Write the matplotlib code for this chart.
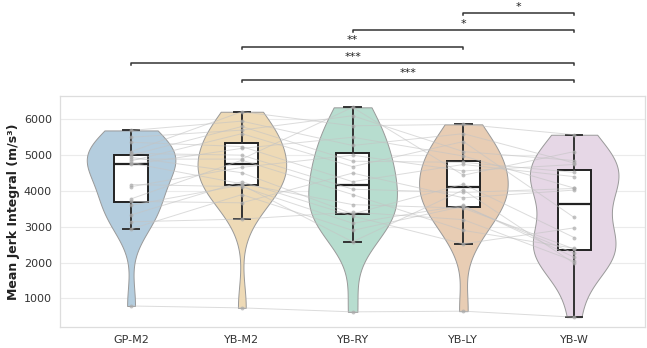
import numpy as np
import matplotlib
matplotlib.use("Agg")
import matplotlib.pyplot as plt

# groups and per-subject values (same subject at the same index in every group)
groups = ["GP-M2", "YB-M2", "YB-RY", "YB-LY", "YB-W"]

gp_m2 = [790, 2940, 3140, 3330, 3600, 3710, 3780, 4120, 4180, 4740,
         4780, 4840, 4890, 4940, 5000, 5050, 5100, 5360, 5500, 5690]
yb_m2 = [737, 3900, 3215, 4260, 4168, 3670, 4860, 4660, 4120, 5190,
         4200, 5600, 4890, 4510, 5800, 5000, 6212, 5240, 5700, 5950]
yb_ry = [626, 2900, 3410, 3300, 2581, 4500, 3900, 5000, 3100, 5500,
         3620, 4680, 6335, 3360, 4830, 4050, 5820, 4260, 6100, 5270]
yb_ly = [645, 3572, 3200, 2525, 4030, 3810, 2900, 4560, 3600, 4976,
         3520, 5380, 4440, 4190, 4800, 3960, 5860, 4740, 5100, 5600]
yb_w = [478, 2260, 2040, 2970, 1980, 4025, 2400, 4740, 2150, 4080,
        2380, 3260, 5100, 2700, 4520, 4070, 5570, 4400, 4850, 4780]

# significance brackets: (group a, group b, label), bottom to top
sig_pairs = [("YB-M2", "YB-W", "***"),
             ("GP-M2", "YB-W", "***"),
             ("YB-M2", "YB-LY", "**"),
             ("YB-RY", "YB-W", "*"),
             ("YB-LY", "YB-W", "*")]

colors = ["#b4cdde", "#eedab6", "#b7ddcf", "#e8cdb4", "#e6d7e6"]

data = [gp_m2, yb_m2, yb_ry, yb_ly, yb_w]
pos = np.arange(len(groups))

fig = plt.figure(figsize=(6.47, 3.48), dpi=100)
ax = fig.add_axes([0.093, 0.06, 0.904, 0.664])

# horizontal grid
ax.set_axisbelow(True)
ax.yaxis.grid(True, color="#ebebeb", linewidth=0.8)
for s in ax.spines.values():
    s.set_color("#dddddd")
    s.set_linewidth(0.9)

# violins
vp = ax.violinplot(data, positions=pos, widths=0.8, showextrema=False)
for body, c in zip(vp["bodies"], colors):
    body.set_facecolor(c)
    body.set_edgecolor("#999999")
    body.set_linewidth(0.7)
    body.set_alpha(1)
    body.set_zorder(1)

# boxes
ax.boxplot(data, positions=pos, widths=0.3, showfliers=False, patch_artist=True,
           boxprops=dict(facecolor="white", edgecolor="#222222", linewidth=1.4),
           medianprops=dict(color="#222222", linewidth=1.6),
           whiskerprops=dict(color="#333333", linewidth=1.4),
           capprops=dict(color="#333333", linewidth=1.4),
           zorder=2)

# paired subject lines and points
arr = np.array(data)
for j in range(arr.shape[1]):
    ax.plot(pos, arr[:, j], color="#c4c4c4", alpha=0.6, linewidth=0.7, zorder=3)
for i in range(len(groups)):
    ax.scatter(np.full(arr.shape[1], pos[i]), arr[i], s=8, color="#aaaaaa",
               alpha=0.7, linewidths=0, zorder=4)

ax.set_xlim(-0.64, 4.64)
ax.set_ylim(200, 6650)
ax.set_yticks([1000, 2000, 3000, 4000, 5000, 6000])
ax.set_xticks(pos)
ax.set_xticklabels(groups)
ax.tick_params(axis="both", length=0, labelsize=8, colors="#333333", pad=6)
ax.set_ylabel("Mean Jerk Integral (m/s³)", fontsize=9, fontweight="bold",
              color="#222222", labelpad=3)

# brackets above the axes
y0 = 7100
step = 465
for k, (a, b, lab) in enumerate(sig_pairs):
    xa, xb = groups.index(a), groups.index(b)
    y = y0 + k * step
    ax.plot([xa, xa, xb, xb], [y - 60, y, y, y - 60], color="#333333",
            linewidth=1.1, clip_on=False)
    ax.text((xa + xb) / 2, y + 40, lab, ha="center", va="bottom", fontsize=8,
            color="#222222", clip_on=False)

fig.savefig("out.png", dpi=100)
